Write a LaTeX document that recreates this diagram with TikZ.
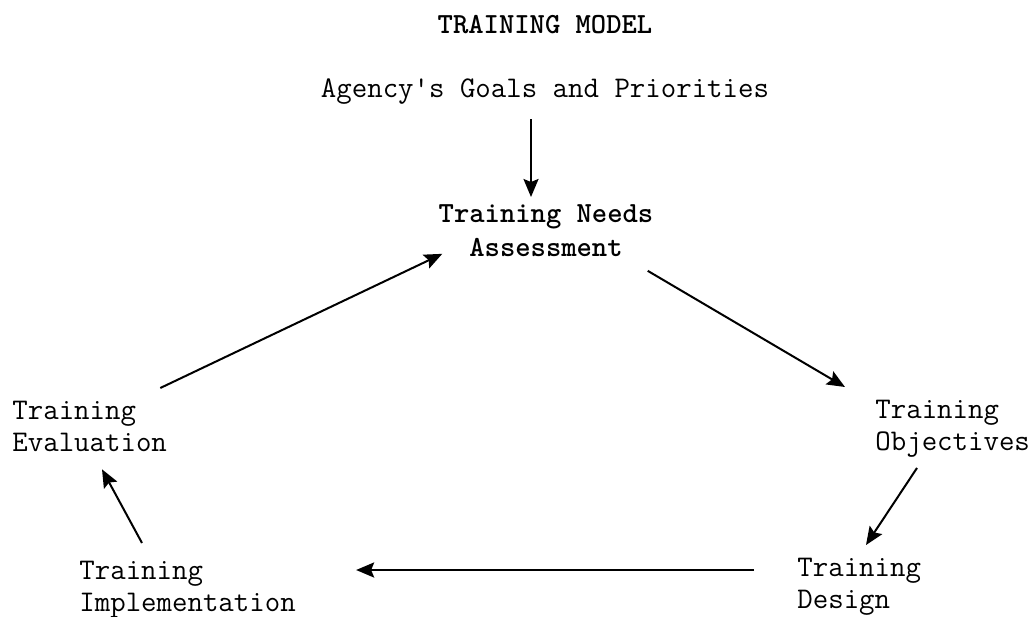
\documentclass[tikz,border=0pt]{standalone}
\usepackage{fontspec}
\usetikzlibrary{arrows.meta,calc}

\begin{document}
\begin{tikzpicture}
[
    x=0.5pt, y=-0.5pt,
    label/.style={font=\ttfamily\fontsize{15}{16}\selectfont, inner sep=0pt, align=left},
    boldlabel/.style={label, font=\ttfamily\bfseries\fontsize{14.6}{17}\selectfont, align=center},
    flow/.style={line width=1pt, -{Stealth[length=9pt, width=7.5pt, inset=1.5pt]}},
]
\useasboundingbox (0,0) rectangle (1033,616);

\node [boldlabel, anchor=north] (title) at (545,15) {TRAINING MODEL};
\node [label, anchor=north] (agency) at (545,78) {Agency's Goals and Priorities};
\node [boldlabel, anchor=north] (tna) at (546,204) {Training Needs\\Assessment};
\node [label, anchor=north west] (obj) at (875,400) {Training\\Objectives};
\node [label, anchor=north west] (des) at (797,558) {Training\\Design};
\node [label, anchor=north west] (impl) at (79,561) {Training\\Implementation};
\node [label, anchor=north west] (eval) at (12,401) {Training\\Evaluation};

\draw [flow] ($(agency.south)+(-14,15)$) -- ($(tna.north)+(-15,-7)$);
\draw [flow] ($(tna.south east)+(-6,14)$) -- ($(obj.north west)+(-30,-13)$);
\draw [flow] ($(obj.south west)+(42,10)$) -- ($(des.north west)+(69,-13)$);
\draw [flow, line width=1.3pt] ($(des.north west)+(-43,12)$) -- ($(impl.north east)+(60,9)$);
\draw [flow] ($(impl.north west)+(63,-18)$) -- ($(eval.south west)+(90,17)$);
\draw [flow] ($(eval.north east)+(-7,-13)$) -- ($(tna.south west)+(4,-3)$);
\end{tikzpicture}
\end{document}
